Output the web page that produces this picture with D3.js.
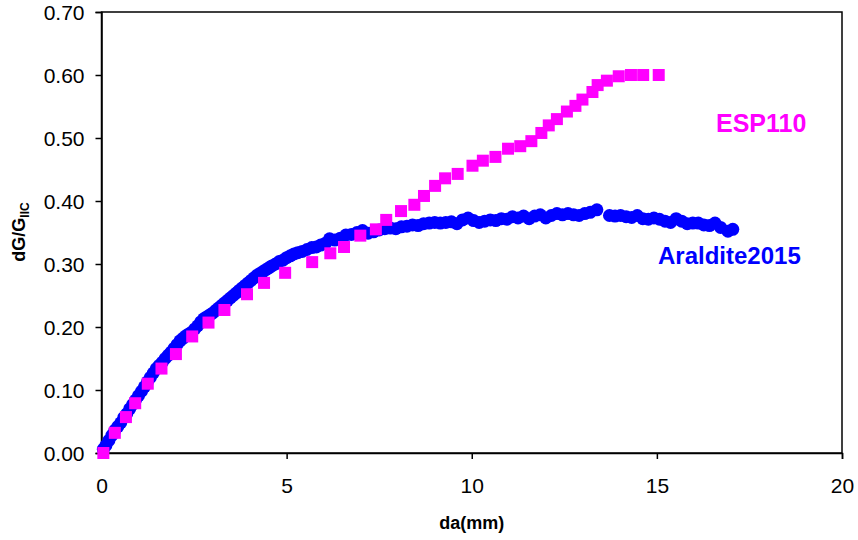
<!DOCTYPE html>
<html><head><meta charset="utf-8">
<script src="https://cdn.jsdelivr.net/npm/d3@7"></script>
<style>body{margin:0;background:#fff}svg{display:block;font-family:"Liberation Sans",Arial,sans-serif}</style>
</head><body><svg id="c" width="858" height="540"></svg>
<script>
const xTicks=[0,5,10,15,20];
const yTicks=[0,0.1,0.2,0.3,0.4,0.5,0.6,0.7];
const espX=[0.05,0.36,0.66,0.91,1.25,1.62,2.01,2.45,2.89,3.32,3.93,4.39,4.96,5.69,6.18,6.55,6.99,7.41,7.69,8.09,8.45,8.71,9.01,9.28,9.62,10.02,10.30,10.64,10.98,11.31,11.61,11.88,12.08,12.30,12.57,12.80,12.99,13.26,13.40,13.65,13.97,14.30,14.63,15.05];
const espY=[0.000,0.032,0.057,0.079,0.110,0.134,0.157,0.185,0.207,0.227,0.252,0.270,0.286,0.303,0.317,0.327,0.345,0.355,0.370,0.384,0.394,0.408,0.424,0.436,0.443,0.456,0.464,0.470,0.483,0.487,0.495,0.508,0.520,0.530,0.542,0.551,0.561,0.573,0.584,0.591,0.598,0.600,0.600,0.600];
const araX=[0.05,0.12,0.2,0.28,0.36,0.44,0.52,0.6,0.68,0.76,0.84,0.92,1.0,1.08,1.16,1.24,1.32,1.4,1.48,1.56,1.64,1.72,1.8,1.88,1.96,2.04,2.12,2.2,2.28,2.36,2.44,2.52,2.6,2.68,2.76,2.84,2.92,3.0,3.08,3.16,3.24,3.32,3.4,3.48,3.56,3.64,3.72,3.8,3.88,3.96,4.04,4.12,4.2,4.28,4.36,4.44,4.52,4.6,4.7,4.8,4.9,5.0,5.1,5.2,5.3,5.42,5.55,5.68,5.8,5.92,6.05,6.16,6.3,6.45,6.6,6.75,6.9,7.05,7.2,7.35,7.5,7.65,7.8,7.95,8.1,8.25,8.4,8.55,8.7,8.85,9.0,9.15,9.3,9.45,9.6,9.75,9.9,10.05,10.2,10.35,10.5,10.65,10.8,10.95,11.1,11.25,11.4,11.55,11.7,11.85,12.0,12.15,12.3,12.45,12.6,12.75,12.9,13.05,13.2,13.38,13.72,13.87,14.02,14.17,14.32,14.47,14.62,14.77,14.92,15.07,15.22,15.37,15.52,15.67,15.82,15.97,16.12,16.27,16.42,16.57,16.72,16.92,17.05];
const araY=[0.006,0.012,0.020,0.028,0.036,0.042,0.048,0.056,0.062,0.070,0.077,0.084,0.091,0.098,0.105,0.113,0.120,0.127,0.134,0.139,0.144,0.150,0.155,0.160,0.166,0.172,0.178,0.182,0.186,0.189,0.192,0.197,0.202,0.208,0.213,0.216,0.219,0.222,0.226,0.230,0.234,0.238,0.242,0.246,0.250,0.254,0.258,0.262,0.266,0.270,0.274,0.278,0.282,0.285,0.288,0.291,0.294,0.297,0.300,0.304,0.306,0.310,0.313,0.316,0.318,0.320,0.323,0.326,0.327,0.330,0.333,0.340,0.338,0.341,0.346,0.347,0.350,0.353,0.349,0.351,0.354,0.356,0.357,0.356,0.359,0.360,0.362,0.361,0.364,0.365,0.366,0.365,0.366,0.367,0.364,0.370,0.373,0.369,0.366,0.368,0.370,0.369,0.372,0.371,0.375,0.373,0.376,0.372,0.376,0.378,0.373,0.377,0.380,0.378,0.380,0.378,0.377,0.380,0.382,0.386,0.377,0.376,0.377,0.375,0.374,0.377,0.372,0.371,0.373,0.371,0.368,0.366,0.372,0.368,0.364,0.365,0.365,0.362,0.361,0.365,0.358,0.352,0.355];

const svg=d3.select("#c");
const L=101.5,R=842,T=12,B=453;
const x=d3.scaleLinear().domain([0,20]).range([L,R]);
const y=d3.scaleLinear().domain([0,0.7]).range([B,T]);

svg.append("rect").attr("x",L).attr("y",T).attr("width",R-L).attr("height",B-T)
  .attr("fill","none").attr("stroke","#000").attr("stroke-width",1.5);

const ax=svg.append("g").attr("transform",`translate(0,${B})`)
  .call(d3.axisBottom(x).tickValues(xTicks).tickSize(6).tickPadding(19).tickFormat(d3.format("d")));
const ay=svg.append("g").attr("transform",`translate(${L},0)`)
  .call(d3.axisLeft(y).tickValues(yTicks).tickSize(6).tickPadding(11).tickFormat(d3.format(".2f")));
[ax,ay].forEach(g=>{
  g.select(".domain").attr("stroke","#000").attr("stroke-width",1.5);
  g.selectAll(".tick line").attr("stroke","#000").attr("stroke-width",1.5);
  g.selectAll(".tick text").attr("font-size",21).attr("fill","#000")
   .attr("font-family","'Liberation Sans',Arial,sans-serif");
});
ay.selectAll(".tick text").attr("dy","0.36em");

svg.append("g").selectAll("circle").data(araX.map((v,i)=>[v,araY[i]])).join("circle")
  .attr("cx",d=>x(d[0])).attr("cy",d=>y(d[1])).attr("r",6.5).attr("fill","#0000ff");
svg.append("g").selectAll("rect").data(espX.map((v,i)=>[v,espY[i]])).join("rect")
  .attr("x",d=>x(d[0])-6).attr("y",d=>y(d[1])-6).attr("width",12).attr("height",12).attr("fill","#ff00ff");

svg.append("text").attr("x",716).attr("y",132).attr("font-size",25).attr("font-weight","bold")
  .attr("fill","#ff00ff").text("ESP110");
svg.append("text").attr("x",658).attr("y",264).attr("font-size",24).attr("font-weight","bold")
  .attr("fill","#0000ff").text("Araldite2015");

svg.append("text").attr("x",(L+R)/2).attr("y",529).attr("text-anchor","middle")
  .attr("font-size",18).attr("font-weight","bold").text("da(mm)");
const yt=svg.append("text").attr("transform","translate(25,232) rotate(-90)").attr("text-anchor","middle")
  .attr("font-size",18).attr("font-weight","bold");
yt.append("tspan").text("dG/G");
yt.append("tspan").attr("font-size",12).attr("dy",4).text("IIC");
</script></body></html>
